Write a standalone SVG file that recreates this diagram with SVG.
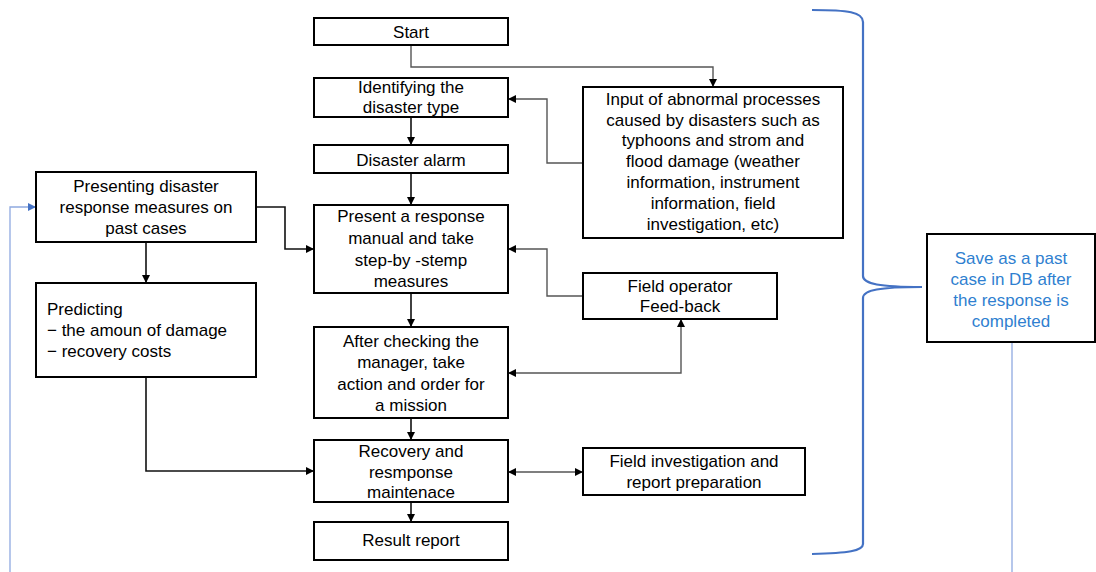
<svg xmlns="http://www.w3.org/2000/svg" width="1096" height="572" viewBox="0 0 1096 572">
  <style>
    .box { fill: #ffffff; stroke: #000000; stroke-width: 2; }
    .lbl { font-family: "Liberation Sans", Arial, sans-serif; font-size: 17px; fill: #000000; text-anchor: middle; }
    .left { text-anchor: start; }
    .blue { fill: #2f7fd0; }
    .flow { fill: none; stroke: #111111; stroke-width: 1.6; }
    .thin { fill: none; stroke: #555555; stroke-width: 1.4; }
    .bluel { fill: none; stroke: #8fa9e0; stroke-width: 1.3; }
    .brace { fill: none; stroke: #4472c4; stroke-width: 2.2; }
  </style>
  <defs>
    <marker id="arr" viewBox="0 0 10 10" refX="10" refY="5" markerWidth="8" markerHeight="8" markerUnits="userSpaceOnUse" orient="auto-start-reverse">
      <path d="M0,0 L10,5 L0,10 Z" fill="#000000"/>
    </marker>
    <marker id="arrBlue" viewBox="0 0 10 10" refX="10" refY="5" markerWidth="8" markerHeight="8" markerUnits="userSpaceOnUse" orient="auto">
      <path d="M0,0 L10,5 L0,10 Z" fill="#4472c4"/>
    </marker>
  </defs>

  <rect width="1096" height="572" fill="#ffffff"/>

  <!-- connectors -->
  <g id="connectors">
    <path class="thin" d="M411,45 V67 H713 V87" marker-end="url(#arr)"/>
    <path class="thin" d="M583,163 H547 V99 H508" marker-end="url(#arr)"/>
    <path class="flow" d="M411,117 V145" marker-end="url(#arr)"/>
    <path class="flow" d="M411,173 V205" marker-end="url(#arr)"/>
    <path class="flow" d="M256,207 H285 V249 H314" marker-end="url(#arr)"/>
    <path class="thin" d="M583,296 H547 V249 H508" marker-end="url(#arr)"/>
    <path class="flow" d="M411,293 V327" marker-end="url(#arr)"/>
    <path class="thin" d="M508,373 H681 V319" marker-start="url(#arr)" marker-end="url(#arr)"/>
    <path class="flow" d="M411,418 V440" marker-end="url(#arr)"/>
    <path class="flow" d="M146,242 V283" marker-end="url(#arr)"/>
    <path class="flow" d="M146,377 V471 H314" marker-end="url(#arr)"/>
    <path class="thin" d="M508,472 H583" marker-start="url(#arr)" marker-end="url(#arr)"/>
    <path class="flow" d="M411,502 V522" marker-end="url(#arr)"/>
    <path class="bluel" d="M10,572 V207 H36" marker-end="url(#arrBlue)"/>
    <path class="bluel" d="M1012,342 V572"/>
    <!-- curly brace grouping the whole flow -->
    <path class="brace" d="M812,10 C848,10 863,12 863,22 L863,276 C863,284 880,287 922,287 C880,287 863,290 863,298 L863,544 C863,551 848,553 812,554"/>
  </g>

  <g id="start">
    <rect class="box" x="314" y="18" width="194" height="27"/>
    <text class="lbl" x="411" y="38">Start</text>
  </g>

  <g id="identify">
    <rect class="box" x="314" y="78" width="194" height="39"/>
    <text class="lbl" x="411" y="93">Identifying the</text>
    <text class="lbl" x="411" y="113">disaster type</text>
  </g>

  <g id="alarm">
    <rect class="box" x="314" y="145" width="194" height="28"/>
    <text class="lbl" x="411" y="166">Disaster alarm</text>
  </g>

  <g id="manual">
    <rect class="box" x="314" y="205" width="194" height="88"/>
    <text class="lbl" x="411" y="222">Present a response</text>
    <text class="lbl" x="411" y="244">manual and take</text>
    <text class="lbl" x="411" y="266">step-by -stemp</text>
    <text class="lbl" x="411" y="287">measures</text>
  </g>

  <g id="action">
    <rect class="box" x="314" y="327" width="194" height="91"/>
    <text class="lbl" x="411" y="347">After checking the</text>
    <text class="lbl" x="411" y="368">manager, take</text>
    <text class="lbl" x="411" y="390">action and order for</text>
    <text class="lbl" x="411" y="411">a mission</text>
  </g>

  <g id="recovery">
    <rect class="box" x="314" y="440" width="194" height="62"/>
    <text class="lbl" x="411" y="457">Recovery and</text>
    <text class="lbl" x="411" y="478">resmponse</text>
    <text class="lbl" x="411" y="498">maintenace</text>
  </g>

  <g id="result">
    <rect class="box" x="314" y="522" width="194" height="38"/>
    <text class="lbl" x="411" y="546">Result report</text>
  </g>

  <g id="input">
    <rect class="box" x="583" y="87" width="260" height="151"/>
    <text class="lbl" x="713" y="105">Input of abnormal processes</text>
    <text class="lbl" x="713" y="126">caused by disasters such as</text>
    <text class="lbl" x="713" y="146">typhoons and strom and</text>
    <text class="lbl" x="713" y="167">flood damage (weather</text>
    <text class="lbl" x="713" y="188">information, instrument</text>
    <text class="lbl" x="713" y="209">information, field</text>
    <text class="lbl" x="713" y="230">investigation, etc)</text>
  </g>

  <g id="feedback">
    <rect class="box" x="583" y="273" width="194" height="46"/>
    <text class="lbl" x="680" y="292">Field operator</text>
    <text class="lbl" x="680" y="312">Feed-back</text>
  </g>

  <g id="investigation">
    <rect class="box" x="583" y="448" width="222" height="47"/>
    <text class="lbl" x="694" y="467">Field investigation and</text>
    <text class="lbl" x="694" y="488">report preparation</text>
  </g>

  <g id="past-cases">
    <rect class="box" x="36" y="172" width="220" height="70"/>
    <text class="lbl" x="146" y="192">Presenting disaster</text>
    <text class="lbl" x="146" y="213">response measures on</text>
    <text class="lbl" x="146" y="234">past cases</text>
  </g>

  <g id="predicting">
    <rect class="box" x="36" y="283" width="220" height="94"/>
    <text class="lbl left" x="47" y="315">Predicting</text>
    <text class="lbl left" x="47" y="336">− the amoun of damage</text>
    <text class="lbl left" x="47" y="357">− recovery costs</text>
  </g>

  <g id="save-db">
    <rect class="box" x="927" y="234" width="168" height="108"/>
    <text class="lbl blue" x="1011" y="264">Save as a past</text>
    <text class="lbl blue" x="1011" y="285">case in DB after</text>
    <text class="lbl blue" x="1011" y="306">the response is</text>
    <text class="lbl blue" x="1011" y="327">completed</text>
  </g>
</svg>
